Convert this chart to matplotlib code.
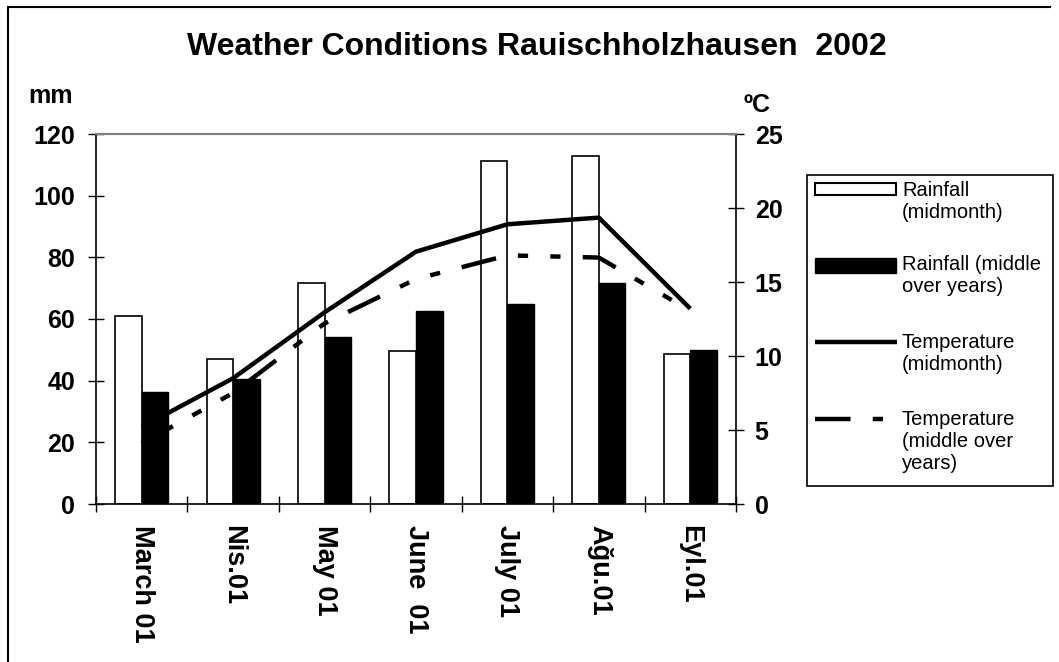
import matplotlib.pyplot as plt
from matplotlib.patches import Rectangle
from matplotlib.lines import Line2D
import numpy as np

plt.rcParams['font.family'] = ['Liberation Sans', 'DejaVu Sans']

# datos
meses = ["March 01", "Nis.01", "May 01", "June  01", "July 01", "Ağu.01", "Eyl.01"]
lluvia_mes = [61.1, 46.9, 71.6, 49.7, 111.3, 113.0, 48.7]
lluvia_media = [36.3, 40.4, 54.1, 62.7, 65.0, 71.6, 50.1]
temp_mes = [5.2, 8.5, 12.95, 17.05, 18.9, 19.35, 13.2]
temp_media = [4.1, 7.5, 12.2, 15.2, 16.8, 16.65, 13.05]
etiquetas = ["Rainfall\n(midmonth)", "Rainfall (middle\nover years)",
             "Temperature\n(midmonth)", "Temperature\n(middle over\nyears)"]

W, H = 1059, 662
def px(x, y):
    # pixeles de la imagen -> fraccion de figura
    return x / W, 1 - y / H

fig = plt.figure(figsize=(W / 100, H / 100), dpi=100)
ax = fig.add_axes([96 / W, 1 - 504 / H, 640 / W, 370 / H])
ax2 = ax.twinx()

x = np.arange(len(meses))
ancho = 0.29
ax.bar(x - ancho / 2, lluvia_mes, ancho, color="white", edgecolor="black", linewidth=1.2)
ax.bar(x + ancho / 2, lluvia_media, ancho, color="black", edgecolor="black", linewidth=1.0)

lw = 3.2
estilo_guion = (0, (8.0, 5.0, 2.3, 5.0, 2.3, 5.0))
ax2.plot(x, temp_mes, color="black", lw=lw, solid_capstyle="butt")
ax2.plot(x, temp_media, color="black", lw=lw, linestyle=estilo_guion)

ax.set_xlim(-0.5, len(meses) - 0.5)
ax.set_ylim(0, 120)
ax2.set_ylim(0, 25)
ax.set_yticks(range(0, 121, 20))
ax2.set_yticks(range(0, 26, 5))
ax.set_xticks(x)
ax.set_xticklabels(meses, rotation=-90, fontsize=19.5, fontweight="bold", va="top", ha="center")
ax.set_xticks(np.arange(-0.5, len(meses), 1), minor=True)
ax.tick_params(axis="x", which="major", length=0, pad=15)
ax.tick_params(axis="x", which="minor", direction="inout", length=12, width=1)
ax.tick_params(axis="y", direction="inout", length=12, width=1, pad=9, labelsize=18)
ax2.tick_params(axis="y", direction="inout", length=12, width=1, pad=7.5, labelsize=18)
for lab in ax.get_yticklabels() + ax2.get_yticklabels():
    lab.set_fontweight("bold")

for a in (ax, ax2):
    a.spines["top"].set_color("#808080")
    a.spines["top"].set_linewidth(1.5)
ax.spines["right"].set_visible(False)
ax2.spines["left"].set_visible(False)
ax2.spines["bottom"].set_visible(False)
ax2.spines["right"].set_linewidth(1.2)
ax.spines["left"].set_linewidth(1.2)
ax.spines["bottom"].set_linewidth(1.2)

fig.text(*px(537, 47), "Weather Conditions Rauischholzhausen  2002", fontsize=23,
         fontweight="bold", ha="center", va="center")
fig.text(*px(28, 103), "mm", fontsize=18, fontweight="bold", ha="left", va="baseline")
fig.text(*px(743, 112), "ºC", fontsize=18, fontweight="bold", ha="left", va="baseline")

# marco exterior
fig.add_artist(Line2D([8 / W, 8 / W], [0, 1 - 7 / H], color="black", lw=1.5))
fig.add_artist(Line2D([8 / W, 1050 / W], [1 - 7 / H, 1 - 7 / H], color="black", lw=1.5))

# leyenda
x0, y0 = px(807, 486)
x1, y1 = px(1053, 175)
fig.add_artist(Rectangle((x0, y0), x1 - x0, y1 - y0, facecolor="white",
                         edgecolor="black", lw=1.2, transform=fig.transFigure))
a, b = px(815, 195)
c, d = px(896, 183)
fig.add_artist(Rectangle((a, b), c - a, d - b, facecolor="white", edgecolor="black",
                         lw=1.5, transform=fig.transFigure))
a, b = px(815, 273)
c, d = px(896, 258)
fig.add_artist(Rectangle((a, b), c - a, d - b, facecolor="black", edgecolor="black",
                         lw=1, transform=fig.transFigure))
a, b = px(815, 342)
c, _ = px(897, 342)
fig.add_artist(Line2D([a, c], [b, b], color="black", lw=lw, solid_capstyle="butt"))
a, b = px(815, 419)
c, _ = px(895, 419)
fig.add_artist(Line2D([a, c], [b, b], color="black", lw=lw, linestyle=estilo_guion))
for etiqueta, ytop in zip(etiquetas, [181, 255, 333, 410]):
    fig.text(*px(902, ytop), etiqueta, fontsize=14.5, ha="left", va="top", linespacing=1.2)

fig.savefig("out.png", dpi=100)
